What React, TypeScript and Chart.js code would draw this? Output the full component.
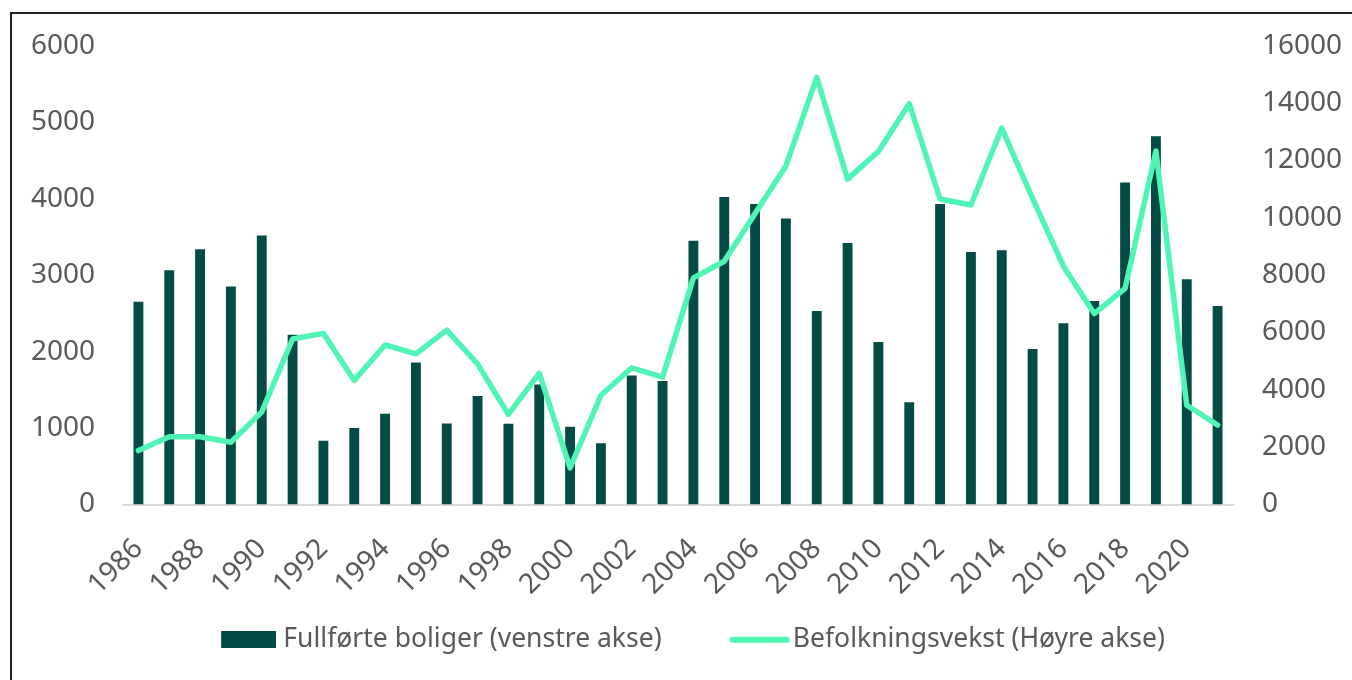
import React, { useEffect, useRef } from "react";
import { Chart, registerables } from "chart.js";

Chart.register(...registerables);

const years = [
  1986, 1987, 1988, 1989, 1990, 1991, 1992, 1993, 1994, 1995, 1996, 1997,
  1998, 1999, 2000, 2001, 2002, 2003, 2004, 2005, 2006, 2007, 2008, 2009,
  2010, 2011, 2012, 2013, 2014, 2015, 2016, 2017, 2018, 2019, 2020, 2021,
];

const boliger = [
  2653, 3065, 3338, 2850, 3519, 2221, 835, 1000, 1186, 1857, 1061, 1420,
  1056, 1571, 1017, 801, 1688, 1615, 3450, 4022, 3931, 3740, 2532, 3420,
  2126, 1338, 3931, 3303, 3325, 2035, 2372, 2662, 4212, 4818, 2948, 2597,
];

const befolkning = [
  1882, 2366, 2366, 2171, 3232, 5772, 5968, 4329, 5565, 5253, 6083, 4906,
  3140, 4583, 1280, 3810, 4768, 4444, 7907, 8485, 10150, 11810, 14900, 11349,
  12317, 13980, 10655, 10448, 13130, 10678, 8312, 6660, 7539, 12330, 3463, 2771,
];

const seriesNames = ["Fullførte boliger (venstre akse)", "Befolkningsvekst (Høyre akse)"];

const BAR_COLOR = "#034b44";
const LINE_COLOR = "#50f5b6";
const TEXT_COLOR = "#595959";
const FONT = "'Noto Sans', 'DejaVu Sans', sans-serif";

function makeSwatch(kind: "rect" | "line"): HTMLCanvasElement {
  const c = document.createElement("canvas");
  if (kind === "rect") {
    c.width = 67;
    c.height = 17;
    const ctx = c.getContext("2d")!;
    ctx.fillStyle = BAR_COLOR;
    ctx.fillRect(12, 0, 55, 17);
  } else {
    c.width = 75;
    c.height = 8;
    const ctx = c.getContext("2d")!;
    ctx.strokeStyle = LINE_COLOR;
    ctx.lineWidth = 6;
    ctx.lineCap = "round";
    ctx.beginPath();
    ctx.moveTo(18, 4);
    ctx.lineTo(72, 4);
    ctx.stroke();
  }
  return c;
}

export default function App() {
  const ref = useRef<HTMLCanvasElement>(null);

  useEffect(() => {
    const rectSwatch = makeSwatch("rect");
    const lineSwatch = makeSwatch("line");
    const chart = new Chart(ref.current as HTMLCanvasElement, {
      data: {
        labels: years.map(String),
        datasets: [
          {
            type: "line",
            label: seriesNames[1],
            data: befolkning,
            borderColor: LINE_COLOR,
            backgroundColor: LINE_COLOR,
            borderWidth: 5.5,
            pointRadius: 0,
            tension: 0,
            borderCapStyle: "round",
            borderJoinStyle: "round",
            yAxisID: "y1",
            order: 1,
          } as any,
          {
            type: "bar",
            label: seriesNames[0],
            data: boliger,
            backgroundColor: BAR_COLOR,
            barPercentage: 0.32,
            categoryPercentage: 1,
            yAxisID: "y",
            order: 2,
          } as any,
        ],
      },
      options: {
        responsive: false,
        animation: false,
        layout: { padding: { top: 43, left: 28, right: 0, bottom: 17 } },
        plugins: {
          tooltip: { enabled: false },
          legend: {
            position: "bottom",
            labels: {
              color: TEXT_COLOR,
              font: { family: FONT, size: 26.5 },
              usePointStyle: true,
              pointStyleWidth: 55,
              boxWidth: 55,
              boxHeight: 17,
              padding: 63,
              sort: (a: any) => (a.datasetIndex === 1 ? -1 : 1),
              generateLabels: (c: any) => {
                const items = (Chart.defaults.plugins.legend.labels as any).generateLabels(c);
                items.forEach((it: any) => {
                  it.pointStyle = it.datasetIndex === 1 ? rectSwatch : lineSwatch;
                  it.lineWidth = 0;
                });
                return items;
              },
            },
          },
        },
        scales: {
          x: {
            grid: { display: false, drawTicks: false },
            border: { display: true, color: "#d9d9d9", width: 2 },
            ticks: {
              autoSkip: false,
              maxRotation: 45,
              minRotation: 45,
              padding: 28,
              color: TEXT_COLOR,
              font: { family: FONT, size: 28 },
              callback: (_v: any, i: number) => (i % 2 === 0 ? String(years[i]) : ""),
            },
            afterFit: (s: any) => {
              s.height = 59;
              s._computeLabelArea = () => undefined;
            },
          },
          y: {
            position: "left",
            min: 0,
            max: 6000,
            grid: { display: false, drawTicks: false },
            border: { display: false },
            ticks: {
              stepSize: 1000,
              padding: 28,
              color: TEXT_COLOR,
              font: { family: FONT, size: 28 },
              callback: (v: any) => String(v),
            },
            afterFit: (s: any) => {
              s.width = 95;
            },
          },
          y1: {
            position: "right",
            min: 0,
            max: 16000,
            grid: { display: false, drawTicks: false },
            border: { display: false },
            ticks: {
              stepSize: 2000,
              padding: 29,
              color: TEXT_COLOR,
              font: { family: FONT, size: 28 },
              callback: (v: any) => String(v),
            },
            afterFit: (s: any) => {
              s.width = 119;
            },
          },
        },
      } as any,
    });
    return () => chart.destroy();
  }, []);

  return (
    <div style={{ position: "fixed", left: 0, top: 0, width: 1352, height: 680, overflow: "hidden", background: "#fff" }}>
      <canvas ref={ref} width={1352} height={680} style={{ position: "absolute", left: 0, top: 0, width: 1352, height: 680 }} />
      <div
        style={{
          position: "absolute",
          left: 10,
          top: 12,
          width: 1400,
          height: 700,
          border: "2px solid #222",
          boxSizing: "border-box",
          pointerEvents: "none",
        }}
      />
    </div>
  );
}
